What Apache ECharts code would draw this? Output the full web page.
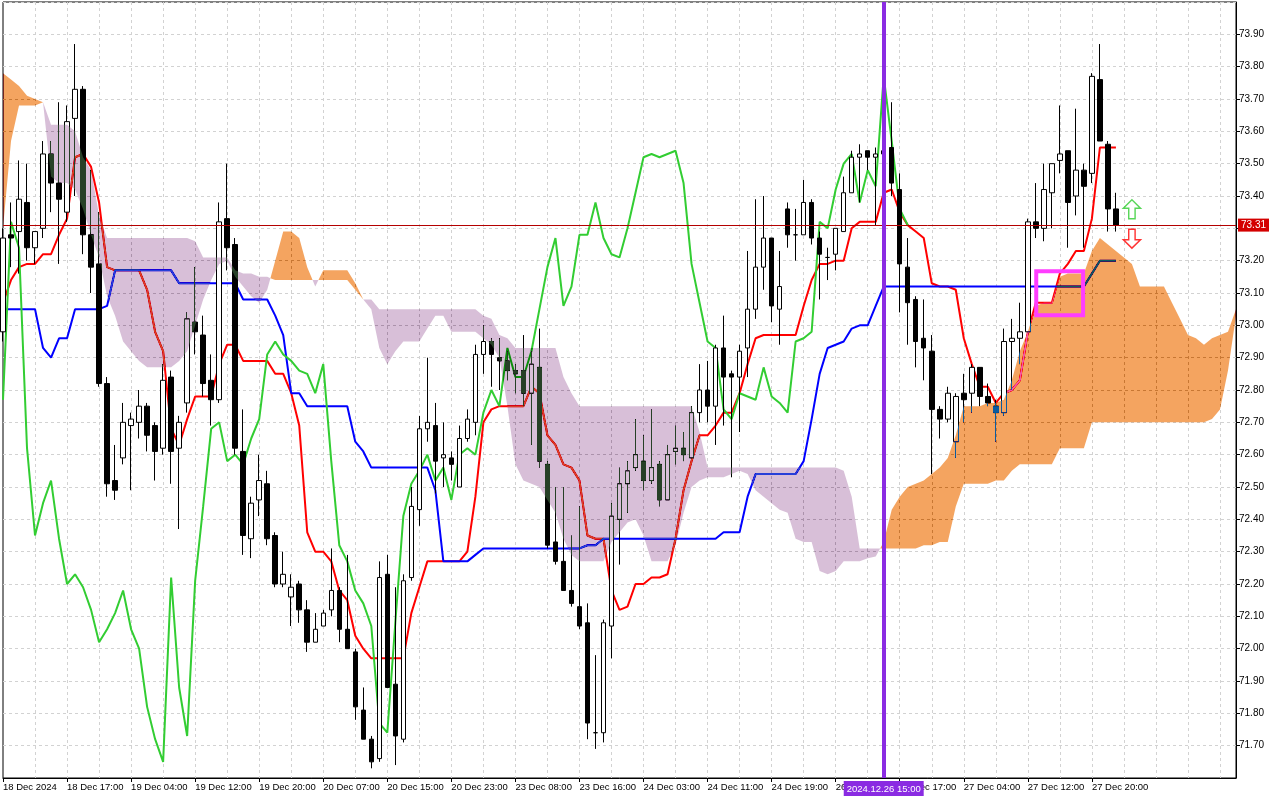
<!DOCTYPE html>
<html>
<head>
<meta charset="utf-8">
<script src="https://cdn.jsdelivr.net/npm/echarts@6/dist/echarts.min.js"></script>
<style>
html,body{margin:0;padding:0;background:#fff;}
#chart{width:1280px;height:800px;}
</style>
</head>
<body>
<div id="chart"></div>
<script>
// ---- tick labels (one every 8 hourly bars) ----
const tickLabels = ['18 Dec 2024','18 Dec 17:00','19 Dec 04:00','19 Dec 12:00','19 Dec 20:00','20 Dec 07:00',
  '20 Dec 15:00','20 Dec 23:00','23 Dec 08:00','23 Dec 16:00','24 Dec 03:00','24 Dec 11:00','24 Dec 19:00',
  '26 Dec 09:00','26 Dec 17:00','27 Dec 04:00','27 Dec 12:00','27 Dec 20:00'];

// ---- candles (H1) ----
const opens = [72.98,73.28,73.29,73.38,73.24,73.30,73.53,73.44,73.35,73.64,
73.73,73.28,73.19,72.82,72.52,72.59,72.69,72.70,72.75,72.69,
72.62,72.84,72.62,72.76,73.01,72.97,72.83,72.77,73.33,73.25,
72.61,72.34,72.46,72.51,72.35,72.20,72.16,72.20,72.12,72.02,
72.07,72.12,72.18,72.06,71.99,71.81,71.72,71.66,72.23,71.89,
71.72,72.22,72.43,72.68,72.69,72.59,72.59,72.50,72.65,72.70,
72.91,72.95,72.90,72.89,72.86,72.86,72.79,72.87,72.57,72.33,
72.27,72.18,72.13,72.08,71.74,71.74,72.07,72.40,72.51,72.56,
72.58,72.52,72.57,72.46,72.61,72.62,72.59,72.73,72.80,72.75,
72.93,72.85,72.84,72.93,73.05,73.18,73.27,73.05,73.36,73.28,
73.28,73.38,73.27,73.21,73.22,73.29,73.41,73.52,73.54,73.52,
73.53,73.55,73.42,73.18,73.08,72.96,72.92,72.74,72.71,72.64,
72.79,72.79,72.87,72.78,72.75,72.73,72.95,72.96,72.98,73.32,
73.30,73.41,73.51,73.54,73.40,73.48,73.47,73.76,73.56,73.36];
const closes = [73.27,73.27,73.39,73.24,73.29,73.53,73.44,73.39,73.63,73.73,
73.28,73.18,72.82,72.51,72.49,72.70,72.71,72.75,72.66,72.61,
72.83,72.61,72.70,73.02,72.98,72.82,72.77,73.32,73.24,72.62,
72.35,72.45,72.52,72.34,72.20,72.23,72.19,72.12,72.02,72.06,
72.11,72.18,72.06,72.00,71.82,71.72,71.65,72.22,71.88,71.73,
72.21,72.44,72.68,72.70,72.58,72.60,72.57,72.65,72.71,72.91,
72.95,72.91,72.89,72.86,72.85,72.79,72.88,72.58,72.32,72.27,
72.18,72.14,72.07,71.77,71.74,72.08,72.41,72.51,72.55,72.60,
72.52,72.56,72.46,72.60,72.62,72.60,72.73,72.80,72.75,72.93,
72.84,72.84,72.92,73.05,73.18,73.27,73.06,73.12,73.28,73.28,
73.38,73.27,73.22,73.21,73.30,73.41,73.52,73.53,73.52,73.53,
73.54,73.44,73.19,73.07,72.95,72.93,72.74,72.71,72.79,72.78,
72.77,72.87,72.78,72.76,72.73,72.95,72.96,72.98,73.32,73.30,
73.42,73.50,73.53,73.38,73.48,73.43,73.77,73.57,73.36,73.31];
const lows = [72.95,73.18,73.16,73.20,73.19,73.27,73.35,73.19,73.32,73.40,
73.22,73.10,72.81,72.47,72.46,72.57,72.49,72.65,72.61,72.52,
72.60,72.51,72.37,72.73,72.91,72.78,72.69,72.76,73.17,72.60,
72.29,72.28,72.41,72.32,72.19,72.19,72.07,72.08,71.99,72.02,
72.07,72.10,72.02,72.00,71.78,71.72,71.63,71.65,71.88,71.64,
71.71,72.21,72.38,72.64,72.48,72.50,72.52,72.50,72.64,72.66,
72.85,72.81,72.80,72.83,72.79,72.75,72.63,72.56,72.31,72.26,
72.18,72.13,72.06,71.72,71.69,71.71,71.97,72.26,72.42,72.55,
72.49,72.51,72.44,72.46,72.57,72.58,72.59,72.70,72.70,72.63,
72.69,72.53,72.67,72.84,73.02,73.11,73.01,72.94,73.24,73.20,
73.28,73.25,73.08,73.14,73.17,73.29,73.41,73.38,73.48,73.31,
73.45,73.40,73.04,72.94,72.87,72.83,72.54,72.65,72.70,72.59,
72.70,72.73,72.75,72.75,72.64,72.72,72.80,72.88,72.98,73.27,
73.26,73.30,73.47,73.24,73.34,73.24,73.44,73.57,73.29,73.29];
const highs = [73.30,73.38,73.51,73.50,73.29,73.57,73.57,73.69,73.68,73.87,
73.74,73.48,73.35,72.84,72.63,72.76,72.73,72.80,72.76,72.70,
72.88,72.86,72.72,73.04,73.18,73.03,72.91,73.38,73.50,73.27,
72.74,72.47,72.60,72.55,72.36,72.30,72.23,72.21,72.15,72.11,
72.12,72.31,72.19,72.29,72.00,71.88,71.73,72.27,72.29,72.19,
72.23,72.50,72.72,72.90,72.76,72.70,72.61,72.69,72.74,72.94,
73.00,72.96,72.96,72.92,72.88,72.97,72.92,72.99,72.58,72.50,
72.50,72.35,72.44,72.14,71.98,72.09,72.45,72.56,72.58,72.71,
72.66,72.74,72.58,72.63,72.69,72.67,72.75,72.88,72.89,72.94,
73.03,72.86,72.94,73.23,73.39,73.40,73.27,73.23,73.38,73.36,
73.45,73.39,73.29,73.24,73.30,73.46,73.54,73.56,73.54,73.55,
73.60,73.69,73.47,73.27,73.09,73.08,72.97,72.75,72.81,72.79,
72.85,72.88,72.87,72.82,72.77,72.99,73.02,73.07,73.33,73.44,
73.50,73.50,73.68,73.54,73.67,73.50,73.78,73.87,73.57,73.41];

// ---- Ichimoku lines ----
const tenkan = [73.07,73.14,73.18,73.19,73.19,73.22,73.22,73.28,73.33,73.52,
73.53,73.49,73.38,73.18,73.17,73.17,73.17,73.17,73.11,72.98,
72.92,72.68,72.63,72.71,72.78,72.78,72.78,72.88,72.94,72.94,
72.89,72.89,72.89,72.89,72.85,72.85,72.79,72.69,72.36,72.30,
72.30,72.27,72.18,72.15,72.04,72.00,71.97,71.97,71.97,71.97,
71.97,72.11,72.19,72.27,72.27,72.27,72.27,72.27,72.30,72.47,
72.70,72.74,72.75,72.75,72.75,72.75,72.81,72.79,72.66,72.63,
72.57,72.56,72.52,72.35,72.34,72.34,72.18,72.12,72.13,72.20,
72.20,72.22,72.22,72.23,72.34,72.49,72.58,72.66,72.66,72.69,
72.73,72.73,72.79,72.88,72.96,72.97,72.97,72.97,72.97,72.97,
73.06,73.14,73.19,73.19,73.20,73.20,73.30,73.32,73.32,73.32,
73.41,73.42,73.35,73.31,73.29,73.27,73.13,73.12,73.12,73.11,
72.96,72.88,72.81,72.81,72.76,72.79,72.80,72.83,72.98,73.07,
73.07,73.07,73.16,73.19,73.23,73.23,73.33,73.55,73.55,73.55];
const kijun = [73.05,73.05,73.05,73.05,73.05,72.93,72.90,72.96,72.96,73.05,
73.05,73.05,73.05,73.06,73.17,73.17,73.17,73.17,73.17,73.17,
73.17,73.17,73.13,73.13,73.13,73.13,73.13,73.13,73.13,73.13,
73.08,73.08,73.08,73.08,73.03,72.97,72.79,72.79,72.75,72.75,
72.75,72.75,72.75,72.75,72.64,72.61,72.56,72.56,72.56,72.56,
72.56,72.56,72.56,72.56,72.49,72.27,72.27,72.27,72.27,72.29,
72.31,72.31,72.31,72.31,72.31,72.31,72.31,72.31,72.31,72.31,
72.31,72.31,72.31,72.32,72.32,72.34,72.34,72.34,72.34,72.34,
72.34,72.34,72.34,72.34,72.34,72.34,72.34,72.34,72.34,72.34,
72.36,72.36,72.36,72.47,72.54,72.54,72.54,72.54,72.54,72.54,
72.58,72.71,72.85,72.93,72.94,72.95,72.99,73.00,73.00,73.06,
73.12,73.12,73.12,73.12,73.12,73.12,73.12,73.12,73.12,73.12,
73.12,73.12,73.12,73.12,73.12,73.12,73.12,73.12,73.12,73.12,
73.12,73.12,73.12,73.12,73.12,73.12,73.16,73.20,73.20,73.20];
const chikouShift = 26;   // lagging span = close plotted 26 bars back

// ---- Senkou spans (cloud, already shifted forward) ----
const spanA = [73.78,73.76,73.74,73.71,73.70,73.69,73.46,73.44,73.44,73.42,
73.36,73.28,73.21,73.09,73.03,72.95,72.92,72.89,72.87,72.87,
72.87,72.87,72.89,72.92,73.00,73.08,73.14,73.19,73.20,73.15,
73.12,73.09,73.07,73.11,73.20,73.29,73.29,73.27,73.18,73.12,
73.17,73.17,73.17,73.17,73.13,73.08,73.05,72.93,72.88,72.92,
72.95,72.95,72.95,72.99,73.03,73.03,72.98,72.98,72.98,72.98,
72.96,72.94,72.90,72.75,72.57,72.52,72.51,72.50,72.46,72.42,
72.34,72.29,72.27,72.27,72.27,72.27,72.33,72.36,72.39,72.40,
72.35,72.27,72.27,72.27,72.32,72.42,72.50,72.52,72.53,72.53,
72.53,72.54,72.55,72.54,72.49,72.47,72.45,72.43,72.42,72.34,
72.33,72.33,72.24,72.23,72.24,72.27,72.27,72.27,72.28,72.285,
72.33,72.43,72.47,72.50,72.51,72.52,72.54,72.56,72.59,72.66,
72.75,72.75,72.75,72.76,72.76,72.77,72.83,72.92,72.98,73.06,
73.07,73.07,73.15,73.16,73.16,73.16,73.23,73.27,73.25,73.23,
73.21,73.19,73.12,73.12,73.12,73.12,73.07,73.02,72.97,72.96,
72.94,72.96,72.97,72.98,73.05];
const spanB = [73.30,73.57,73.68,73.68,73.68,73.69,73.62,73.62,73.62,73.60,
73.52,73.48,73.34,73.27,73.27,73.27,73.27,73.27,73.27,73.27,
73.27,73.27,73.27,73.27,73.26,73.21,73.21,73.21,73.21,73.17,
73.16,73.16,73.15,73.15,73.14,73.14,73.14,73.14,73.14,73.14,
73.14,73.14,73.14,73.14,73.11,73.08,73.08,73.05,73.05,73.05,
73.05,73.05,73.05,73.05,73.05,73.05,73.05,73.05,73.05,73.05,
73.03,73.02,72.97,72.96,72.93,72.93,72.93,72.93,72.93,72.93,
72.84,72.79,72.75,72.75,72.75,72.75,72.75,72.75,72.75,72.75,
72.75,72.75,72.75,72.75,72.75,72.75,72.75,72.67,72.56,72.56,
72.56,72.56,72.56,72.56,72.56,72.56,72.56,72.56,72.56,72.56,
72.56,72.56,72.56,72.56,72.56,72.55,72.47,72.31,72.31,72.31,
72.31,72.31,72.31,72.31,72.31,72.32,72.32,72.33,72.33,72.44,
72.51,72.51,72.51,72.51,72.52,72.52,72.55,72.57,72.57,72.57,
72.57,72.57,72.62,72.62,72.62,72.62,72.70,72.70,72.70,72.70,
72.70,72.70,72.70,72.70,72.70,72.70,72.70,72.70,72.70,72.70,
72.70,72.71,72.74,72.86,73.03];

// ---- annotations ----
const bidPrice = 73.31;
const markerBar = 110;
const markerLabel = '2024.12.26 15:00';
const boxX = [129.05, 134.9];
const boxY = [73.031, 73.167];
const upArrow = [140.96, 73.359];
const downArrow = [140.96, 73.268];

// ---------------------------------------------------------------
const N = spanA.length;
const cats = Array.from({length: N}, (_, i) => String(i));
const candles = opens.map((o, i) => [o, closes[i], lows[i], highs[i]]);
const chikou = closes.slice(chikouShift);

const chart = echarts.init(document.getElementById('chart'), null, {renderer: 'canvas'});
const zr = chart.getZr();
const gridDash = {color: '#d2d2d2', type: [3, 3], width: 1};
const isLabelIdx = i => i % 8 === 0 && i / 8 < tickLabels.length;

chart.setOption({
  animation: false,
  backgroundColor: '#ffffff',
  grid: {left: 2, right: 44, top: 2, bottom: 22, show: true, borderColor: '#000', borderWidth: 1, backgroundColor: 'transparent'},
  xAxis: {
    type: 'category', data: cats, boundaryGap: false,
    axisLine: {show: true, lineStyle: {color: '#000', width: 1}},
    axisTick: {show: true, interval: isLabelIdx, length: 4, lineStyle: {color: '#000'}},
    axisLabel: {show: true, interval: isLabelIdx, formatter: (v, i) => tickLabels[i / 8] || '',
      align: 'left', margin: 4, color: '#000', fontSize: 9.5, fontFamily: 'Liberation Sans'},
    splitLine: {show: true, interval: i => i % 4 === 0 && i > 0, lineStyle: gridDash}
  },
  yAxis: {
    type: 'value', position: 'right', min: 71.6, max: 74.0, interval: 0.1,
    axisLine: {show: true, onZero: false, lineStyle: {color: '#000'}},
    axisTick: {show: true, length: 4, lineStyle: {color: '#000'}},
    axisLabel: {color: '#000', fontSize: 10, fontFamily: 'Liberation Sans', margin: 3,
      showMinLabel: false, showMaxLabel: false, formatter: v => v.toFixed(2)},
    splitLine: {show: true, lineStyle: gridDash}
  },
  series: [
    {type: 'candlestick', data: candles, barWidth: 5, silent: true, z: 2,
      itemStyle: {color: '#ffffff', color0: '#000000', borderColor: '#000000', borderColor0: '#000000', borderWidth: 1}},
    {type: 'line', data: tenkan, symbol: 'none', silent: true, z: 2, lineStyle: {color: '#ff0000', width: 2}},
    {type: 'line', data: kijun, symbol: 'none', silent: true, z: 2, lineStyle: {color: '#0000ff', width: 2}},
    {type: 'line', data: chikou, symbol: 'none', silent: true, z: 2, lineStyle: {color: '#32cd32', width: 2}},
    {type: 'scatter', z: 5, silent: true,
      data: [
        {value: upArrow, symbol: 'path://M8,0 L16,8 L11,8 L11,18 L5,18 L5,8 L0,8 Z', symbolSize: [17, 19],
          itemStyle: {color: '#ffffff', borderColor: '#2ecc2e', borderWidth: 1.5}},
        {value: downArrow, symbol: 'path://M5,0 L11,0 L11,10 L16,10 L8,18 L0,10 L5,10 Z', symbolSize: [17, 19],
          itemStyle: {color: '#ffffff', borderColor: '#ff0000', borderWidth: 1.5}}
      ],
      markLine: {
        silent: true, symbol: ['none', 'none'], animation: false,
        data: [
          {yAxis: bidPrice, lineStyle: {color: '#b40000', width: 1, type: 'solid'},
            label: {show: true, position: 'end', distance: 2, formatter: bidPrice.toFixed(2), color: '#fff',
              backgroundColor: '#d40000', padding: [2, 3, 1, 3], fontSize: 10, fontFamily: 'Liberation Sans'}},
          {xAxis: markerBar, lineStyle: {color: '#8a2be2', width: 4, type: 'solid'}, label: {show: false}}
        ]
      }
    }
  ]
});

// pixel helpers from the chart's own scales
const xp = f => {
  const i0 = Math.floor(f), a = chart.convertToPixel({xAxisIndex: 0}, i0), b = chart.convertToPixel({xAxisIndex: 0}, i0 + 1);
  return a + (f - i0) * (b - a);
};
const yp = v => chart.convertToPixel({yAxisIndex: 0}, v);

const bx0 = xp(boxX[0]), bx1 = xp(boxX[1]), by0 = yp(boxY[1]), by1 = yp(boxY[0]);
chart.setOption({
  graphic: [
    {type: 'rect', silent: true, z: 100, shape: {x: bx0, y: by0, width: bx1 - bx0, height: by1 - by0},
      style: {fill: 'transparent', stroke: '#ff3dff', lineWidth: 4}},
    {type: 'text', silent: true, z: 100, x: xp(markerBar), y: 781,
      style: {text: markerLabel, fill: '#ffffff', backgroundColor: '#8a2be2', padding: [3, 3, 2, 3],
        font: '9.5px "Liberation Sans"', align: 'center', verticalAlign: 'top'}}
  ]
});

// ---- Kumo (cloud): runs of same sign between span A and span B ----
function cloudRuns() {
  const pa = [], pb = [];
  for (let i = 0; i < N; i++) { pa.push([xp(i), yp(spanA[i])]); pb.push([xp(i), yp(spanB[i])]); }
  const runs = [];
  let cur = {sign: spanA[0] >= spanB[0] ? 1 : -1, up: [pa[0]], lo: [pb[0]]};
  for (let i = 0; i < N - 1; i++) {
    const d0 = spanA[i] - spanB[i], d1 = spanA[i + 1] - spanB[i + 1];
    const s1 = d1 >= 0 ? 1 : -1;
    if (s1 === cur.sign) { cur.up.push(pa[i + 1]); cur.lo.push(pb[i + 1]); }
    else {
      const t = (d0 - d1) !== 0 ? d0 / (d0 - d1) : 0;
      const c = [pa[i][0] + t * (pa[i + 1][0] - pa[i][0]), pa[i][1] + t * (pa[i + 1][1] - pa[i][1])];
      cur.up.push(c); cur.lo.push(c); runs.push(cur);
      cur = {sign: s1, up: [c, pa[i + 1]], lo: [c, pb[i + 1]]};
    }
  }
  runs.push(cur);
  return runs;
}
const runs = cloudRuns();
function addCloud(blendMode) {
  return runs.map(r => {
    const poly = new echarts.graphic.Polygon({
      silent: true,
      z: blendMode ? 3 : 1,
      shape: {points: r.up.concat(r.lo.slice().reverse())},
      style: blendMode
        ? {fill: r.sign > 0 ? '#0b5b9f' : '#274027', blend: 'difference'}
        : {fill: r.sign > 0 ? '#f4a460' : '#d8bfd8'}
    });
    zr.add(poly);
    return poly;
  });
}
let polys = addCloud(true);
zr.refreshImmediately();
// verify the difference blend produced sandy brown over white; otherwise use plain fills under candles
let ok = false;
try {
  const cv = chart.getDom().querySelector('canvas');
  const dpr = cv.width / chart.getWidth();
  const px = Math.round(xp(146) * dpr), py = Math.round(yp(72.85) * dpr);
  const d = cv.getContext('2d').getImageData(px, py, 1, 1).data;
  ok = Math.abs(d[0] - 244) < 25 && Math.abs(d[1] - 164) < 25 && Math.abs(d[2] - 96) < 25;
} catch (e) { ok = false; }
if (!ok) {
  polys.forEach(p => zr.remove(p));
  polys = addCloud(false);
  zr.refreshImmediately();
}
</script>
</body>
</html>
